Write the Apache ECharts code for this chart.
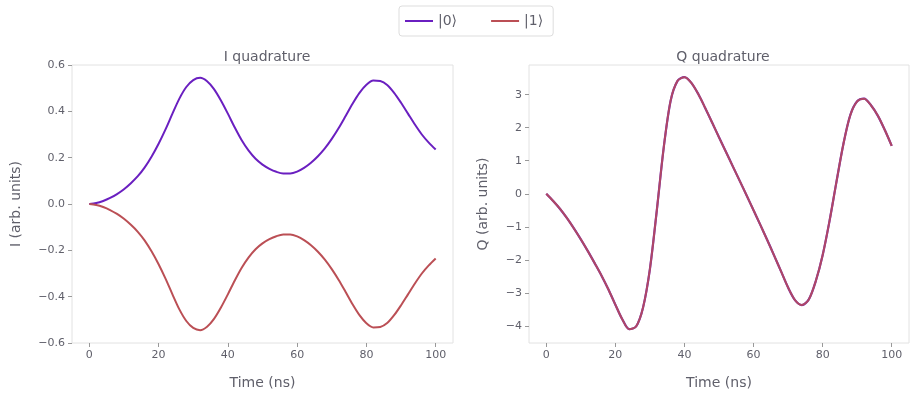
<!DOCTYPE html>
<html>
<head>
<meta charset="utf-8">
<title>I/Q quadratures</title>
<script src="https://cdn.jsdelivr.net/npm/echarts@6/dist/echarts.min.js"></script>
<style>
  html, body { margin: 0; padding: 0; background: #fff; }
  #chart { width: 916px; height: 398px; }
</style>
</head>
<body>
<div id="chart"></div>
<script>
// time axis, 2 ns steps
const timeNs = [0, 2, 4, 6, 8, 10, 12, 14, 16, 18, 20, 22, 24, 26, 28, 30, 32, 34, 36, 38, 40,
  42, 44, 46, 48, 50, 52, 54, 56, 58, 60, 62, 64, 66, 68, 70, 72, 74, 76, 78, 80,
  82, 84, 86, 88, 90, 92, 94, 96, 98, 100]

// I quadrature
const iGround = [0, 0.004, 0.013, 0.026, 0.043, 0.064, 0.09, 0.12, 0.158, 0.205, 0.26,
  0.322, 0.39, 0.455, 0.505, 0.535, 0.545, 0.53, 0.496, 0.447, 0.39,
  0.33, 0.275, 0.23, 0.195, 0.17, 0.152, 0.139, 0.132, 0.132, 0.14,
  0.156, 0.178, 0.206, 0.24, 0.281, 0.328, 0.38, 0.433, 0.48, 0.515,
  0.533, 0.531, 0.514, 0.48, 0.437, 0.39, 0.343, 0.3, 0.265, 0.235]
const iExcited = [0, -0.004, -0.013, -0.026, -0.043, -0.064, -0.09, -0.12, -0.158, -0.205, -0.26,
  -0.322, -0.39, -0.455, -0.505, -0.535, -0.545, -0.53, -0.496, -0.447, -0.39,
  -0.33, -0.275, -0.23, -0.195, -0.17, -0.152, -0.139, -0.132, -0.132, -0.14,
  -0.156, -0.178, -0.206, -0.24, -0.281, -0.328, -0.38, -0.433, -0.48, -0.515,
  -0.533, -0.531, -0.514, -0.48, -0.437, -0.39, -0.343, -0.3, -0.265, -0.235]

// Q quadrature (both states overlap)
const qGround = [0, -0.22, -0.46, -0.74, -1.05, -1.38, -1.73, -2.1, -2.48, -2.9, -3.36,
  -3.8, -4.1, -4.02, -3.45, -2.28, -0.5, 1.4, 2.82, 3.42, 3.53,
  3.36, 3.02, 2.6, 2.16, 1.71, 1.27, 0.83, 0.39, -0.05, -0.5,
  -0.95, -1.41, -1.88, -2.36, -2.84, -3.22, -3.37, -3.2, -2.65, -1.86,
  -0.82, 0.36, 1.5, 2.38, 2.8, 2.88, 2.68, 2.36, 1.93, 1.45]
const qExcited = [0, -0.22, -0.46, -0.74, -1.05, -1.38, -1.73, -2.1, -2.48, -2.9, -3.36,
  -3.8, -4.1, -4.02, -3.45, -2.28, -0.5, 1.4, 2.82, 3.42, 3.53,
  3.36, 3.02, 2.6, 2.16, 1.71, 1.27, 0.83, 0.39, -0.05, -0.5,
  -0.95, -1.41, -1.88, -2.36, -2.84, -3.22, -3.37, -3.2, -2.65, -1.86,
  -0.82, 0.36, 1.5, 2.38, 2.8, 2.88, 2.68, 2.36, 1.93, 1.45]

// ticks
const xTicks = [0, 20, 40, 60, 80, 100]
const iTicks = [-0.6, -0.4, -0.2, 0, 0.2, 0.4, 0.6]
const iTickLabels = ['\u22120.6', '\u22120.4', '\u22120.2', '0.0', '0.2', '0.4', '0.6']
const qTicks = [-4, -3, -2, -1, 0, 1, 2, 3]
const qTickLabels = ['\u22124', '\u22123', '\u22122', '\u22121', '0', '1', '2', '3']

const seriesNames = ['|0\u27e9', '|1\u27e9']
const purple = '#6a1fc0'
const red = '#bb4f55'
const font = 'DejaVu Sans'
const textColor = '#5f5f6a'

const pairs = (ys) => timeNs.map((t, i) => [t, ys[i]])

const axisCommon = {
  axisLine: { show: false, onZero: false },
  splitLine: { show: false },
  axisTick: { show: true, length: 4, lineStyle: { color: '#999' } },
  axisLabel: { color: textColor, fontFamily: font, fontSize: 11, margin: 7 },
  nameTextStyle: { color: textColor, fontFamily: font, fontSize: 14 }
}

const makeX = (gridIndex) => ({
  ...axisCommon,
  type: 'value',
  gridIndex,
  min: -5,
  max: 105,
  name: 'Time (ns)',
  nameLocation: 'middle',
  nameGap: 33,
  axisTick: { ...axisCommon.axisTick, customValues: xTicks },
  axisLabel: { ...axisCommon.axisLabel, customValues: xTicks, formatter: (v) => String(v) }
})

const chart = echarts.init(document.getElementById('chart'), null, { renderer: 'canvas' })

const option = {
  animation: false,
  backgroundColor: '#fff',
  textStyle: { fontFamily: font },
  title: [
    { text: 'I quadrature', left: 262, top: 45, textAlign: 'center',
      textStyle: { color: textColor, fontFamily: font, fontSize: 14, fontWeight: 'normal' } },
    { text: 'Q quadrature', left: 718, top: 45, textAlign: 'center',
      textStyle: { color: textColor, fontFamily: font, fontSize: 14, fontWeight: 'normal' } }
  ],
  legend: {
    data: seriesNames,
    top: 6,
    left: 399,
    icon: 'rect',
    itemWidth: 28,
    itemHeight: 2,
    itemGap: 34,
    padding: [8, 10, 8, 6],
    borderColor: '#ddd',
    borderWidth: 1,
    borderRadius: 3,
    textStyle: { color: textColor, fontFamily: font, fontSize: 14 }
  },
  grid: [
    { left: 72, top: 65, width: 381, height: 278, show: true, borderColor: '#e2e2e2', borderWidth: 1, backgroundColor: 'transparent' },
    { left: 529, top: 65, width: 380, height: 278, show: true, borderColor: '#e2e2e2', borderWidth: 1, backgroundColor: 'transparent' }
  ],
  xAxis: [makeX(0), makeX(1)],
  yAxis: [
    {
      ...axisCommon,
      type: 'value',
      gridIndex: 0,
      min: -0.6,
      max: 0.6,
      name: 'I (arb. units)',
      nameLocation: 'middle',
      nameGap: 49,
      axisTick: { ...axisCommon.axisTick, customValues: iTicks },
      axisLabel: { ...axisCommon.axisLabel, customValues: iTicks,
        formatter: (v) => iTickLabels[iTicks.findIndex((t) => Math.abs(t - v) < 1e-6)] }
    },
    {
      ...axisCommon,
      type: 'value',
      gridIndex: 1,
      min: -4.52,
      max: 3.9,
      name: 'Q (arb. units)',
      nameLocation: 'middle',
      nameGap: 39,
      axisTick: { ...axisCommon.axisTick, customValues: qTicks },
      axisLabel: { ...axisCommon.axisLabel, customValues: qTicks,
        formatter: (v) => qTickLabels[qTicks.findIndex((t) => Math.abs(t - v) < 1e-6)] }
    }
  ],
  series: [
    { name: seriesNames[0], type: 'line', xAxisIndex: 0, yAxisIndex: 0, data: pairs(iGround),
      symbol: 'none', smooth: 0.3, lineStyle: { color: purple, width: 2 }, itemStyle: { color: purple } },
    { name: seriesNames[1], type: 'line', xAxisIndex: 0, yAxisIndex: 0, data: pairs(iExcited),
      symbol: 'none', smooth: 0.3, lineStyle: { color: red, width: 2 }, itemStyle: { color: red } },
    { name: seriesNames[0], type: 'line', xAxisIndex: 1, yAxisIndex: 1, data: pairs(qGround),
      symbol: 'none', smooth: 0.3, lineStyle: { color: purple, width: 2.2 }, itemStyle: { color: purple } },
    { name: seriesNames[1], type: 'line', xAxisIndex: 1, yAxisIndex: 1, data: pairs(qExcited),
      symbol: 'none', smooth: 0.3, lineStyle: { color: red, width: 2, opacity: 0.85 }, itemStyle: { color: red } }
  ]
}

chart.setOption(option)
</script>
</body>
</html>
